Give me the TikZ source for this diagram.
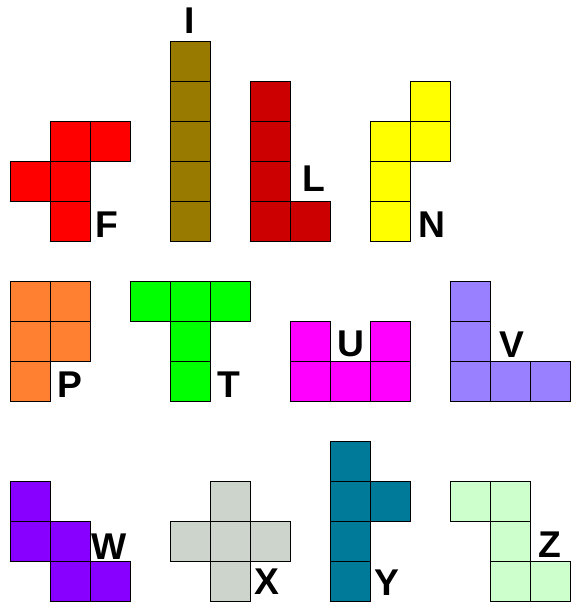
\documentclass[tikz,border=0pt]{standalone}
\usepackage{fontspec}
\setmainfont{Liberation Sans}
\definecolor{pentF}{RGB}{255,0,0}
\definecolor{pentI}{RGB}{153,122,0}
\definecolor{pentL}{RGB}{204,0,0}
\definecolor{pentN}{RGB}{255,255,0}
\definecolor{pentP}{RGB}{255,128,48}
\definecolor{pentT}{RGB}{0,255,0}
\definecolor{pentU}{RGB}{255,0,255}
\definecolor{pentV}{RGB}{153,128,255}
\definecolor{pentW}{RGB}{136,0,255}
\definecolor{pentX}{RGB}{204,212,204}
\definecolor{pentY}{RGB}{0,122,153}
\definecolor{pentZ}{RGB}{204,255,204}
\begin{document}
\begin{tikzpicture}[y=-1cm,
  cell/.style={draw=black,line width=1.1pt},
  lbl/.style={font=\fontsize{26.5}{30}\selectfont\bfseries,inner sep=0pt,anchor=base}]
\useasboundingbox (-0.2625,-0.0375) rectangle (14.0125,15.0125);

% First row
\foreach \i/\j in {1/3,2/3,0/4,1/4,1/5}
  \draw[cell,fill=pentF] (\i,\j) rectangle ++(1,1);
\node[lbl] (labF) at (2.41,5.91) {F};
\foreach \j in {1,...,5}
  \draw[cell,fill=pentI] (4,\j) rectangle ++(1,1);
\node[lbl] (labI) at (4.49,0.79) {I};
\foreach \i/\j in {6/2,6/3,6/4,6/5,7/5}
  \draw[cell,fill=pentL] (\i,\j) rectangle ++(1,1);
\node[lbl] (labL) at (7.58,4.74) {L};
\foreach \i/\j in {10/2,10/3,9/3,9/4,9/5}
  \draw[cell,fill=pentN] (\i,\j) rectangle ++(1,1);
\node[lbl] (labN) at (10.53,5.91) {N};

% Second row
\foreach \i/\j in {0/7,1/7,0/8,1/8,0/9}
  \draw[cell,fill=pentP] (\i,\j) rectangle ++(1,1);
\node[lbl] (labP) at (1.49,9.89) {P};
\foreach \i/\j in {3/7,4/7,5/7,4/8,4/9}
  \draw[cell,fill=pentT] (\i,\j) rectangle ++(1,1);
\node[lbl] (labT) at (5.46,9.89) {T};
\foreach \i/\j in {7/8,9/8,7/9,8/9,9/9}
  \draw[cell,fill=pentU] (\i,\j) rectangle ++(1,1);
\node[lbl] (labU) at (8.51,8.88) {U};
\foreach \i/\j in {11/7,11/8,11/9,12/9,13/9}
  \draw[cell,fill=pentV] (\i,\j) rectangle ++(1,1);
\node[lbl] (labV) at (12.54,8.89) {V};

% Third row
\foreach \i/\j in {0/12,0/13,1/13,1/14,2/14}
  \draw[cell,fill=pentW] (\i,\j) rectangle ++(1,1);
\node[lbl] (labW) at (2.46,13.94) {W};
\foreach \i/\j in {5/12,4/13,5/13,6/13,5/14}
  \draw[cell,fill=pentX] (\i,\j) rectangle ++(1,1);
\node[lbl] (labX) at (6.40,14.83) {X};
\foreach \i/\j in {8/11,8/12,9/12,8/13,8/14}
  \draw[cell,fill=pentY] (\i,\j) rectangle ++(1,1);
\node[lbl] (labY) at (9.41,14.84) {Y};
\foreach \i/\j in {11/12,12/12,12/13,12/14,13/14}
  \draw[cell,fill=pentZ] (\i,\j) rectangle ++(1,1);
\node[lbl] (labZ) at (13.49,13.89) {Z};
\end{tikzpicture}
\end{document}
